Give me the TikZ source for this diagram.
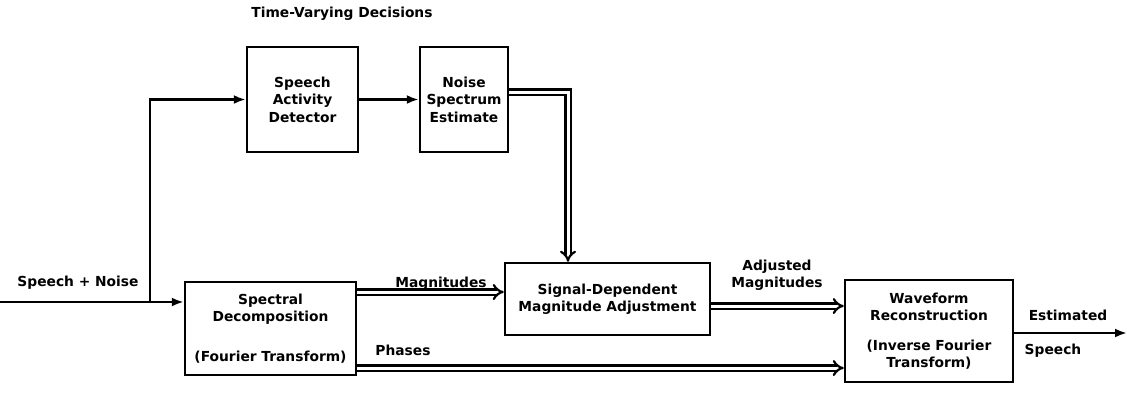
\documentclass[tikz,border=0pt]{standalone}
\usepackage{fontspec}
\setmainfont{DejaVu Sans}
\usetikzlibrary{arrows.meta}
\begin{document}
\begin{tikzpicture}[x=1pt,y=-1pt,
  every node/.style={font=\bfseries\fontsize{13.8}{17.5}\selectfont, inner sep=0pt},
  box/.style={draw, line width=2.4pt, align=center},
  lbl/.style={align=center},
  sline/.style={line width=2.4pt, -{Latex[length=12pt,width=9pt]}},
  dbl/.style={line width=2.2pt, double=white, double distance=3pt, -{Implies[scale=1.6]}}
]
\useasboundingbox (0,0) rectangle (1127,392);
% boxes
\node[box, minimum width=111pt, minimum height=105pt] (sad) at (302.5,99.5) {Speech\\Activity\\Detector};
\node[box, minimum width=88pt, minimum height=105pt] (noise) at (464,99.5) {Noise\\Spectrum\\Estimate};
\node[box, minimum width=171pt, minimum height=93pt] (spec) at (270.5,328.5) {Spectral\\Decomposition\\[22pt](Fourier Transform)};
\node[box, minimum width=205pt, minimum height=72pt] (sig) at (607.5,299) {Signal-Dependent\\Magnitude Adjustment};
\node[box, minimum width=168pt, minimum height=102pt] (wave) at (929,331) {Waveform\\Reconstruction\\[12pt](Inverse Fourier\\Transform)};
% free ends
\coordinate (in) at (0,302);
\coordinate (br) at (150,302);
\coordinate (out) at (1127,333);
% connectors
\draw[line width=2.4pt] (in) -- (br);
\draw[sline] (br) -- (spec.west |- br);
\draw[sline] (br) |- (sad.west);
\draw[sline] (sad.east) -- (noise.west);
\draw[dbl] ([yshift=7.5pt]noise.east) -| ([xshift=-39.5pt]sig.north);
\draw[dbl] ([yshift=36.5pt]spec.east) -- ([yshift=36.5pt]spec.east -| sig.west);
\draw[dbl] ([yshift=-39.5pt]spec.east) -- ([yshift=-39.5pt]spec.east -| wave.west);
\draw[dbl] ([yshift=-7pt]sig.east) -- ([yshift=-7pt]sig.east -| wave.west);
\draw[sline] ([yshift=-2pt]wave.east) -- (out);
% labels
\node[lbl] (tvd) at (342,14) {Time-Varying Decisions};
\node[lbl] (sn) at (78,283) {Speech + Noise};
\node[lbl] (mag) at (441,284) {Magnitudes};
\node[lbl] (ph) at (403,350) {Phases};
\node[lbl] (adj) at (777,275) {Adjusted\\Magnitudes};
\node[lbl] (est) at (1068,315) {Estimated};
\node[lbl] (sp) at (1053,351) {Speech};
\end{tikzpicture}
\end{document}
